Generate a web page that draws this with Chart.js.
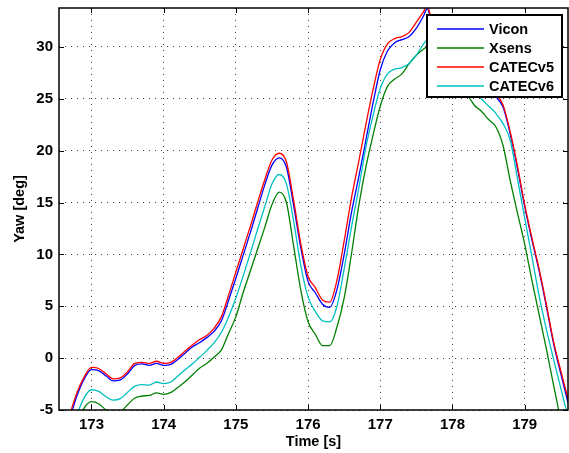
<!DOCTYPE html>
<html>
<head>
<meta charset="utf-8">
<title>Yaw</title>
<script src="https://cdn.jsdelivr.net/npm/chart.js@4/dist/chart.umd.min.js"></script>
<style>
  html, body { margin: 0; padding: 0; background: #ffffff; }
  #wrap { width: 569px; height: 453px; }
</style>
</head>
<body>
<div id="wrap"><canvas id="yawChart" width="569" height="453"></canvas></div>
<script>
// ---- data: time [s] and yaw [deg] per source ----
const time = [
  172.6, 172.7, 172.8, 172.9, 173.0, 173.1, 173.2, 173.3, 173.4, 173.5,
  173.6, 173.7, 173.8, 173.9, 174.0, 174.1, 174.2, 174.3, 174.4, 174.5,
  174.6, 174.7, 174.8, 174.9, 175.0, 175.1, 175.2, 175.3, 175.4, 175.5,
  175.6, 175.7, 175.8, 175.9, 176.0, 176.1, 176.2, 176.3, 176.4, 176.5,
  176.6, 176.7, 176.8, 176.9, 177.0, 177.1, 177.2, 177.3, 177.4, 177.5,
  177.6, 177.65, 177.7, 177.8, 177.9, 178.0, 178.1, 178.2, 178.3, 178.4, 178.5,
  178.6, 178.7, 178.8, 178.9, 179.0, 179.1, 179.2, 179.3, 179.4, 179.5,
  179.6
];

const vicon = [
  -7.8, -5.8, -3.6, -2.0, -1.1, -1.2, -1.7, -2.2, -2.1, -1.5,
  -0.7, -0.55, -0.7, -0.5, -0.7, -0.6, -0.1, 0.5, 1.1, 1.5,
  2.0, 2.6, 3.6, 5.6, 7.7, 9.9, 12.1, 14.4, 16.7, 18.6,
  19.3, 18.4, 14.7, 10.6, 7.4, 6.3, 5.2, 4.9, 6.6, 10.0,
  14.0, 17.4, 21.0, 24.6, 27.8, 29.6, 30.4, 30.7, 31.0, 31.8,
  33.0, 33.7, 32.8, 32.4, 31.9, 31.2, 30.2, 29.1, 28.1, 27.1, 26.2,
  25.2, 24.2, 21.6, 18.3, 14.6, 11.4, 8.4, 5.0, 1.4, -1.5,
  -4.3
];

const xsens = [
  -10.5, -8.5, -6.3, -4.8, -4.2, -4.4, -5.0, -5.4, -5.2, -4.5,
  -3.85, -3.65, -3.6, -3.35, -3.5, -3.3, -2.8, -2.25, -1.6, -0.95,
  -0.5, 0.1, 0.8, 2.4, 4.0, 6.3, 8.4, 10.5, 12.6, 14.8,
  16.0, 15.0, 10.8, 6.5, 3.5, 2.3, 1.2, 1.2, 3.0, 5.8,
  10.0, 14.6, 18.4, 21.5, 24.3, 26.2, 26.9, 27.4, 28.4, 29.2,
  29.8, 30.0, 30.3, 30.6, 30.4, 29.5, 27.8, 25.6, 24.4, 23.8, 23.0,
  22.3, 20.5, 17.1, 14.0, 11.0, 7.5, 4.2, 0.9, -2.6, -6.0,
  -9.2
];

const catecV5 = [
  -7.4, -5.4, -3.3, -1.8, -0.9, -1.0, -1.5, -2.0, -1.9, -1.3,
  -0.5, -0.4, -0.5, -0.3, -0.5, -0.4, 0.1, 0.7, 1.3, 1.8,
  2.2, 2.9, 4.0, 6.1, 8.3, 10.5, 12.7, 15.0, 17.2, 19.1,
  19.75, 18.9, 15.2, 11.0, 7.9, 6.8, 5.6, 5.4, 7.5, 11.3,
  15.4, 18.9, 22.5, 25.9, 28.8, 30.3, 30.8, 31.0, 31.4, 32.4,
  33.4, 34.0, 33.0, 32.6, 32.1, 31.4, 30.4, 29.3, 28.3, 27.4, 26.5,
  25.5, 24.4, 21.8, 18.5, 14.8, 11.6, 8.6, 5.2, 1.6, -1.2,
  -3.9
];

const catecV6 = [
  -9.0, -7.3, -5.4, -3.8, -3.05, -3.2, -3.7, -4.05, -3.9, -3.3,
  -2.7, -2.55, -2.6, -2.3, -2.45, -2.3, -1.7, -1.1, -0.55, 0.1,
  0.75, 1.5, 2.5, 4.0, 5.8, 7.9, 10.1, 12.4, 14.6, 16.8,
  17.7, 16.8, 13.2, 8.9, 5.9, 4.5, 3.6, 3.5, 5.0, 8.6,
  12.6, 16.3, 20.3, 23.4, 26.0, 27.4, 27.85, 28.0, 28.4, 29.2,
  30.3, 30.7, 31.0, 31.5, 31.4, 30.6, 29.0, 27.2, 25.8, 25.0, 24.3,
  23.6, 22.6, 21.0, 17.3, 13.5, 9.8, 6.0, 2.8, -0.1, -2.9,
  -5.7
];

const xTicks = [173, 174, 175, 176, 177, 178, 179];
const yTicks = [-5, 0, 5, 10, 15, 20, 25, 30];

const seriesNames = ['Vicon', 'Xsens', 'CATECv5', 'CATECv6'];
const seriesColors = ['#0000ff', '#008000', '#ff0000', '#00bfbf'];
const seriesValues = [vicon, xsens, catecV5, catecV6];

const FONT = "'Liberation Sans', Arial, Helvetica, sans-serif";

function toPoints(values) {
  return values.map((v, i) => ({ x: time[i], y: v }));
}

// ---- plot frame with inward ticks on all four sides ----
const framePlugin = {
  id: 'frame',
  afterDatasetsDraw(chart) {
    const { ctx, chartArea: a, scales } = chart;
    const len = 5;
    ctx.save();
    ctx.strokeStyle = '#000';
    ctx.lineWidth = 1;
    ctx.beginPath();
    xTicks.forEach(v => {
      const px = Math.round(scales.x.getPixelForValue(v)) + 0.5;
      ctx.moveTo(px, a.bottom); ctx.lineTo(px, a.bottom - len);
      ctx.moveTo(px, a.top); ctx.lineTo(px, a.top + len);
    });
    yTicks.forEach(v => {
      const py = Math.round(scales.y.getPixelForValue(v)) + 0.5;
      ctx.moveTo(a.left, py); ctx.lineTo(a.left + len, py);
      ctx.moveTo(a.right, py); ctx.lineTo(a.right - len, py);
    });
    ctx.stroke();
    ctx.lineWidth = 1.5;
    ctx.strokeRect(a.left, a.top, a.right - a.left, a.bottom - a.top);
    ctx.restore();
  }
};

// ---- boxed legend in the upper right corner ----
const boxLegend = {
  id: 'boxLegend',
  afterDatasetsDraw(chart) {
    const { ctx, chartArea: a } = chart;
    const w = 135, h = 82;
    const x0 = 427, y0 = a.top + 7;
    ctx.save();
    ctx.fillStyle = '#fff';
    ctx.fillRect(x0, y0, w, h);
    ctx.strokeStyle = '#000';
    ctx.lineWidth = 2;
    ctx.strokeRect(x0, y0, w, h);
    ctx.font = 'bold 14.5px ' + FONT;
    ctx.textBaseline = 'middle';
    ctx.textAlign = 'left';
    chart.data.datasets.forEach((ds, i) => {
      const y = y0 + 14 + i * 19;
      ctx.strokeStyle = ds.borderColor;
      ctx.lineWidth = 1.5;
      ctx.beginPath();
      ctx.moveTo(x0 + 10, y);
      ctx.lineTo(x0 + 57, y);
      ctx.stroke();
      ctx.fillStyle = '#000';
      ctx.fillText(ds.label, x0 + 62, y + 1);
    });
    ctx.restore();
  }
};

const datasets = seriesNames.map((name, i) => ({
  label: name,
  data: toPoints(seriesValues[i]),
  borderColor: seriesColors[i],
  backgroundColor: seriesColors[i],
  borderWidth: 1.3,
  pointRadius: 0,
  fill: false,
  cubicInterpolationMode: 'monotone',
  order: seriesNames.length - i
}));

const gridStyle = {
  color: 'rgba(0, 0, 0, 0.75)',
  lineWidth: 1,
  drawTicks: false
};

new Chart(document.getElementById('yawChart'), {
  type: 'line',
  data: { datasets },
  options: {
    responsive: false,
    animation: false,
    layout: { padding: { top: 8, right: 1, left: 0, bottom: 0 } },
    plugins: {
      legend: { display: false },
      tooltip: { enabled: false }
    },
    scales: {
      x: {
        type: 'linear',
        min: 172.55,
        max: 179.6,
        afterBuildTicks: s => { s.ticks = xTicks.map(v => ({ value: v })); },
        afterFit: s => {
          s.height = 43;
          s.paddingLeft = 0;
          s.paddingRight = 0;
        },
        grid: gridStyle,
        border: { display: false, dash: [1, 5] },
        ticks: {
          color: '#000',
          padding: 6,
          maxRotation: 0,
          font: { family: FONT, size: 15, weight: 'bold' },
          callback: v => String(v)
        },
        title: {
          display: true,
          text: 'Time [s]',
          color: '#000',
          padding: 2,
          font: { family: FONT, size: 14.5, weight: 'bold' }
        }
      },
      y: {
        min: -5,
        max: 33.75,
        afterBuildTicks: s => { s.ticks = yTicks.map(v => ({ value: v })); },
        afterFit: s => {
          s.width = 59;
          s.paddingTop = 0;
          s.paddingBottom = 0;
        },
        grid: gridStyle,
        border: { display: false, dash: [1, 5] },
        ticks: {
          color: '#000',
          padding: 6,
          font: { family: FONT, size: 15, weight: 'bold' },
          callback: v => String(v)
        },
        title: {
          display: true,
          text: 'Yaw [deg]',
          color: '#000',
          padding: 11,
          font: { family: FONT, size: 14.5, weight: 'bold' }
        }
      }
    }
  },
  plugins: [framePlugin, boxLegend]
});
</script>
</body>
</html>
